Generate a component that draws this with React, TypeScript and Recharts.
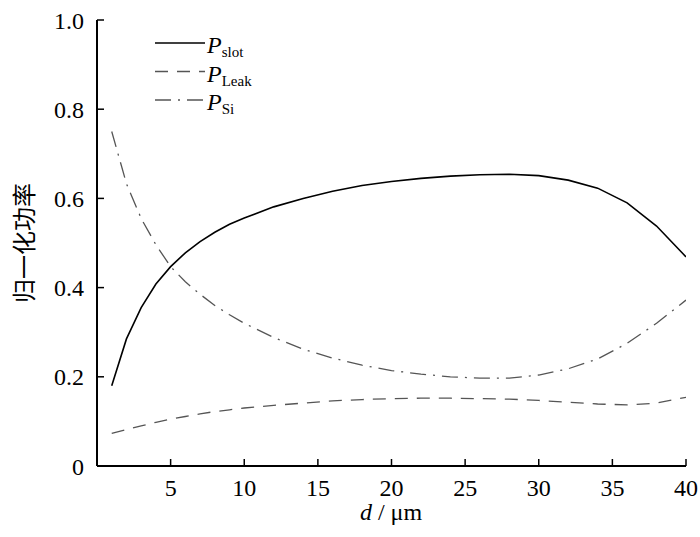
import { LineChart, Line, XAxis, YAxis } from 'recharts'

const dValues = [1, 2, 3, 4, 5, 6, 7, 8, 9, 10, 12, 14, 16, 18, 20, 22, 24, 26, 28, 30, 32, 34, 36, 38, 40]
const slotValues = [0.18, 0.285, 0.355, 0.408, 0.447, 0.478, 0.503, 0.524, 0.542, 0.556, 0.581, 0.600, 0.616, 0.629, 0.638, 0.645, 0.650, 0.653, 0.654, 0.651, 0.641, 0.623, 0.590, 0.538, 0.469]
const leakValues = [0.073, 0.082, 0.090, 0.098, 0.105, 0.111, 0.117, 0.122, 0.126, 0.130, 0.136, 0.141, 0.146, 0.149, 0.151, 0.152, 0.152, 0.151, 0.150, 0.147, 0.143, 0.139, 0.137, 0.141, 0.154]
const siValues = [0.75, 0.633, 0.555, 0.496, 0.447, 0.413, 0.385, 0.360, 0.339, 0.320, 0.288, 0.262, 0.242, 0.226, 0.214, 0.206, 0.200, 0.197, 0.197, 0.204, 0.218, 0.240, 0.275, 0.320, 0.372]

const xTicks = [5, 10, 15, 20, 25, 30, 35, 40]
const yTicks = [0, 0.2, 0.4, 0.6, 0.8, 1.0]

const series = [
    { key: 'slot', sub: 'slot', color: '#000', dash: undefined as string | undefined, width: 1.6 },
    { key: 'leak', sub: 'Leak', color: '#555', dash: '13 9', width: 1.3 },
    { key: 'si', sub: 'Si', color: '#555', dash: '16 7 2 7', width: 1.3 },
]

const data = dValues.map((d, i) => ({ d, slot: slotValues[i], leak: leakValues[i], si: siValues[i] }))

const SERIF = '"Liberation Serif", serif'

function XTick({ x, y, payload }: any) {
    return (
        <g>
            <line x1={x} y1={y} x2={x} y2={y - 7} stroke="#000" strokeWidth={1.5} />
            <text x={x} y={y + 30} textAnchor="middle" fontSize={24} fontFamily={SERIF} fill="#000">
                {payload.value}
            </text>
        </g>
    )
}

function YTick({ x, y, payload }: any) {
    const v = payload.value
    return (
        <g>
            {v !== 0 && <line x1={x} y1={y} x2={x + 7} y2={y} stroke="#000" strokeWidth={1.5} />}
            <text x={x - 13} y={y + 8.5} textAnchor="end" fontSize={24} fontFamily={SERIF} fill="#000">
                {v === 0 ? '0' : v.toFixed(1)}
            </text>
        </g>
    )
}

function LegendBox() {
    return (
        <svg width={160} height={90} style={{ position: 'absolute', left: 155, top: 28, overflow: 'visible' }}>
            {series.map((s, i) => {
                const y = 15 + i * 28.5
                return (
                    <g key={s.key}>
                        <line x1={0} y1={y} x2={50} y2={y} stroke={s.color} strokeWidth={s.width} strokeDasharray={s.dash} />
                        <text x={52} y={y + 10} fontFamily={SERIF} fontSize={24} fill="#000">
                            <tspan fontStyle="italic">P</tspan>
                            <tspan fontSize={15} dy={4}>{s.sub}</tspan>
                        </text>
                    </g>
                )
            })}
        </svg>
    )
}

export default function App() {
    return (
        <div style={{ width: 700, height: 537, position: 'relative', background: '#fff' }}>
            <style>{`body{margin:0}`}</style>
            <LineChart width={700} height={537} data={data} margin={{ top: 20, right: 14, bottom: 0, left: 0 }}>
                <XAxis
                    dataKey="d"
                    type="number"
                    domain={[0, 40]}
                    ticks={xTicks}
                    tick={<XTick />}
                    tickSize={0}
                    tickMargin={0}
                    tickLine={false}
                    height={71}
                    axisLine={{ stroke: '#000', strokeWidth: 2 }}
                    allowDataOverflow
                />
                <YAxis
                    type="number"
                    domain={[0, 1]}
                    ticks={yTicks}
                    tick={<YTick />}
                    tickSize={0}
                    tickMargin={0}
                    tickLine={false}
                    width={97}
                    axisLine={{ stroke: '#000', strokeWidth: 2 }}
                />
                {series.map((s) => (
                    <Line
                        key={s.key}
                        dataKey={s.key}
                        type="linear"
                        stroke={s.color}
                        strokeWidth={s.width}
                        strokeDasharray={s.dash}
                        dot={false}
                        activeDot={false}
                        isAnimationActive={false}
                    />
                ))}
            </LineChart>
            <LegendBox />
            <div
                style={{
                    position: 'absolute', left: 22, top: 243, transform: 'translate(-50%, -50%) rotate(-90deg)',
                    fontFamily: '"Noto Sans CJK SC", sans-serif', fontSize: 24, whiteSpace: 'nowrap', color: '#000',
                }}
            >
                归一化功率
            </div>
            <div
                style={{
                    position: 'absolute', left: 391, top: 512, transform: 'translate(-50%, -50%)',
                    fontFamily: SERIF, fontSize: 24, whiteSpace: 'nowrap', color: '#000',
                }}
            >
                <i>d</i> / μm
            </div>
        </div>
    )
}
